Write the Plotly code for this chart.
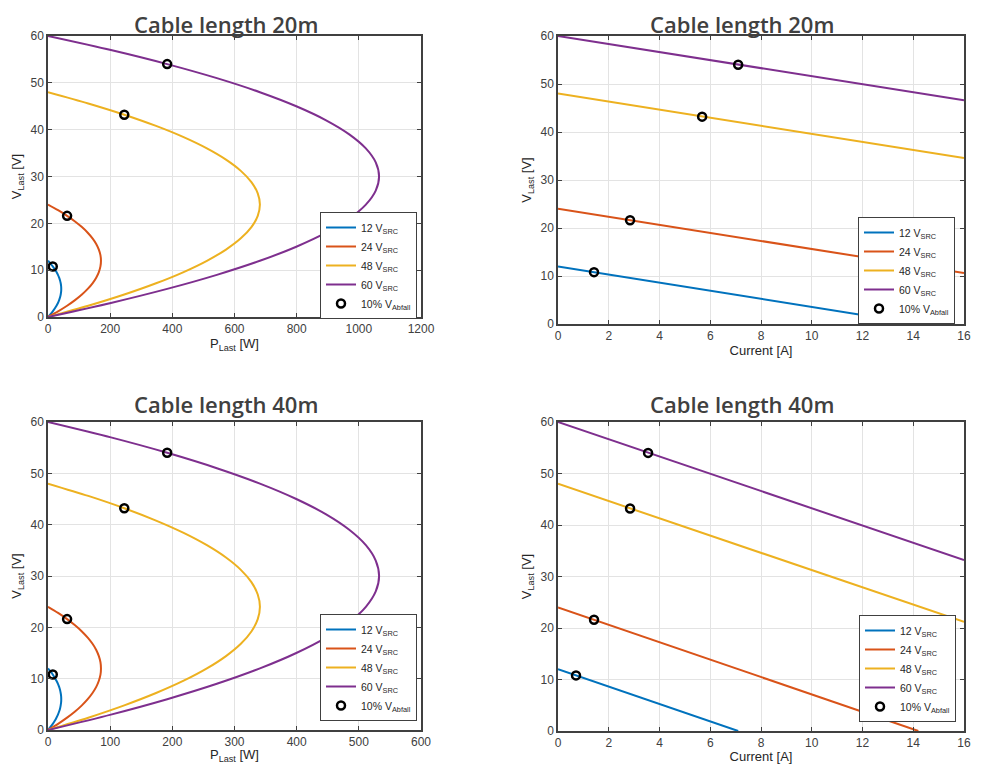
import plotly.graph_objects as go

# ---------------- data ----------------
sources = ["12", "24", "48", "60"]
colors = ["#0072BD", "#D95319", "#EDB120", "#7E2F8E"]

# Load voltage samples (V) along each curve
v_12 = [12, 11.4, 10.8, 10.2, 9.6, 9, 8.4, 7.8, 7.2, 6.6, 6, 5.4, 4.8, 4.2, 3.6, 3, 2.4, 1.8, 1.2, 0.6, 0]
v_24 = [24, 22.8, 21.6, 20.4, 19.2, 18, 16.8, 15.6, 14.4, 13.2, 12, 10.8, 9.6, 8.4, 7.2, 6, 4.8, 3.6, 2.4, 1.2, 0]
v_48 = [48, 45.6, 43.2, 40.8, 38.4, 36, 33.6, 31.2, 28.8, 26.4, 24, 21.6, 19.2, 16.8, 14.4, 12, 9.6, 7.2, 4.8, 2.4, 0]
v_60 = [60, 57, 54, 51, 48, 45, 42, 39, 36, 33, 30, 27, 24, 21, 18, 15, 12, 9, 6, 3, 0]

# Load power (W), cable 20 m
p20_12 = [0, 8.1, 15.3, 21.7, 27.3, 32.0, 35.8, 38.8, 40.9, 42.2, 42.6, 42.2, 40.9, 38.8, 35.8, 32.0, 27.3, 21.7, 15.3, 8.1, 0]
p20_24 = [0, 32.4, 61.4, 86.9, 109.1, 127.8, 143.2, 155.1, 163.6, 168.7, 170.4, 168.7, 163.6, 155.1, 143.2, 127.8, 109.1, 86.9, 61.4, 32.4, 0]
p20_48 = [0, 129.5, 245.4, 347.6, 436.3, 511.2, 572.6, 620.3, 654.4, 674.8, 681.7, 674.8, 654.4, 620.3, 572.6, 511.2, 436.3, 347.6, 245.4, 129.5, 0]
p20_60 = [0, 202.4, 383.4, 543.2, 681.7, 798.8, 894.7, 969.2, 1022.5, 1054.4, 1065.1, 1054.4, 1022.5, 969.2, 894.7, 798.8, 681.7, 543.2, 383.4, 202.4, 0]

# Load power (W), cable 40 m
p40_12 = [0, 4.0, 7.7, 10.9, 13.6, 16.0, 17.9, 19.4, 20.4, 21.1, 21.3, 21.1, 20.4, 19.4, 17.9, 16.0, 13.6, 10.9, 7.7, 4.0, 0]
p40_24 = [0, 16.2, 30.7, 43.5, 54.5, 63.9, 71.6, 77.6, 81.8, 84.4, 85.2, 84.4, 81.8, 77.6, 71.6, 63.9, 54.5, 43.5, 30.7, 16.2, 0]
p40_48 = [0, 64.8, 122.7, 173.8, 218.2, 255.6, 286.3, 310.2, 327.2, 337.4, 340.9, 337.4, 327.2, 310.2, 286.3, 255.6, 218.2, 173.8, 122.7, 64.8, 0]
p40_60 = [0, 101.2, 191.7, 271.6, 340.9, 399.4, 447.4, 484.6, 511.3, 527.2, 532.6, 527.2, 511.3, 484.6, 447.4, 399.4, 340.9, 271.6, 191.7, 101.2, 0]

# Current vs voltage line endpoints
i20_12 = [0, 14.2]; u20_12 = [12, 0]
i20_24 = [0, 16];   u20_24 = [24, 10.6]
i20_48 = [0, 16];   u20_48 = [48, 34.6]
i20_60 = [0, 16];   u20_60 = [60, 46.6]

i40_12 = [0, 7.1];  u40_12 = [12, 0]
i40_24 = [0, 14.2]; u40_24 = [24, 0]
i40_48 = [0, 16];   u40_48 = [48, 21.2]
i40_60 = [0, 16];   u40_60 = [60, 33.2]

# 10 % voltage drop markers
mark_v = [10.8, 21.6, 43.2, 54]
mark_p20 = [15.3, 61.4, 245.4, 383.4]
mark_i20 = [1.42, 2.84, 5.68, 7.1]
mark_p40 = [7.7, 30.7, 122.7, 191.7]
mark_i40 = [0.71, 1.42, 2.84, 3.55]

titles = ["Cable length 20m", "Cable length 20m", "Cable length 40m", "Cable length 40m"]

# ---------------- figure ----------------
fig = go.Figure()

panels = [
    ("x", "y", "legend", [p20_12, p20_24, p20_48, p20_60], [v_12, v_24, v_48, v_60], mark_p20, mark_v),
    ("x2", "y2", "legend2", [i20_12, i20_24, i20_48, i20_60], [u20_12, u20_24, u20_48, u20_60], mark_i20, mark_v),
    ("x3", "y3", "legend3", [p40_12, p40_24, p40_48, p40_60], [v_12, v_24, v_48, v_60], mark_p40, mark_v),
    ("x4", "y4", "legend4", [i40_12, i40_24, i40_48, i40_60], [u40_12, u40_24, u40_48, u40_60], mark_i40, mark_v),
]

for xa, ya, lg, xs, ys, mx, my in panels:
    for k in range(4):
        fig.add_trace(go.Scatter(
            x=xs[k], y=ys[k], mode="lines", xaxis=xa, yaxis=ya, legend=lg,
            line=dict(color=colors[k], width=2, shape="spline", smoothing=0.8),
            name=f"{sources[k]} V<sub>SRC</sub>",
        ))
    fig.add_trace(go.Scatter(
        x=mx, y=my, mode="markers", xaxis=xa, yaxis=ya, legend=lg,
        marker=dict(symbol="circle-open", size=8, color="black", line=dict(width=2.5, color="black")),
        name="10% V<sub>Abfall</sub>",
    ))

# page body has an 8px margin: figure sized to fit the window, coordinates shifted
OFF = 8
W, H = 981 - 2 * OFF, 772 - 2 * OFF
def dx(a, b):
    return [(a - OFF) / W, (b - OFF) / W]
def dy(top, bot):
    return [1 - (bot - OFF) / H, 1 - (top - OFF) / H]
def px(a):
    return (a - OFF) / W
def py(a):
    return 1 - (a - OFF) / H

axis_common = dict(
    showgrid=True, gridcolor="#e3e3e3", gridwidth=1,
    showline=True, linecolor="#404040", linewidth=1.5, mirror="ticks",
    ticks="inside", ticklen=4, tickcolor="#404040", automargin=False,
    zeroline=False, tickfont=dict(family="Liberation Sans, Arial", size=12, color="#404040"),
    title_font=dict(family="Liberation Sans, Arial", size=13, color="#262626"),
)

ytitle = "V<sub>Last</sub> [V]"
fig.update_layout(
    width=W, height=H,
    margin=dict(l=0, r=0, t=0, b=0, autoexpand=False),
    paper_bgcolor="white", plot_bgcolor="white",
    xaxis=dict(domain=dx(48, 421), range=[0, 1200], dtick=200, anchor="y",
               title=dict(text="P<sub>Last</sub> [W]", standoff=4), **axis_common),
    yaxis=dict(domain=dy(36, 317), range=[0, 60], dtick=10, anchor="x",
               title=dict(text=ytitle, standoff=6), **axis_common),
    xaxis2=dict(domain=dx(558, 964), range=[0, 16], dtick=2, anchor="y2",
                title=dict(text="Current [A]", standoff=2), **axis_common),
    yaxis2=dict(domain=dy(36, 324), range=[0, 60], dtick=10, anchor="x2",
                title=dict(text=ytitle, standoff=6), **axis_common),
    xaxis3=dict(domain=dx(48, 421), range=[0, 600], dtick=100, anchor="y3",
                title=dict(text="P<sub>Last</sub> [W]", standoff=4), **axis_common),
    yaxis3=dict(domain=dy(422, 730), range=[0, 60], dtick=10, anchor="x3",
                title=dict(text=ytitle, standoff=6), **axis_common),
    xaxis4=dict(domain=dx(558, 964), range=[0, 16], dtick=2, anchor="y4",
                title=dict(text="Current [A]", standoff=2), **axis_common),
    yaxis4=dict(domain=dy(422, 731), range=[0, 60], dtick=10, anchor="x4",
                title=dict(text=ytitle, standoff=6), **axis_common),
)

legend_common = dict(
    bgcolor="white", bordercolor="#404040", borderwidth=1,
    font=dict(family="Liberation Sans, Arial", size=10.5, color="#262626"),
    xanchor="left", yanchor="top", traceorder="normal", tracegroupgap=0,
)
fig.update_layout(
    legend=dict(x=px(320), y=py(212), **legend_common),
    legend2=dict(x=px(858), y=py(217), **legend_common),
    legend3=dict(x=px(320), y=py(614), **legend_common),
    legend4=dict(x=px(859), y=py(615), **legend_common),
)

title_pos = [(226, 8, "top"), (742, 8, "top"), (226, 404, "middle"), (742, 404, "middle")]
for t, (tx, ty, anc) in zip(titles, title_pos):
    fig.add_annotation(
        text=t, x=px(tx), y=py(ty), xref="paper", yref="paper",
        xanchor="center", yanchor=anc, showarrow=False, borderpad=0,
        font=dict(family="Open Sans", size=22, color="#404040", weight=600),
    )

fig.write_html("out.html")
